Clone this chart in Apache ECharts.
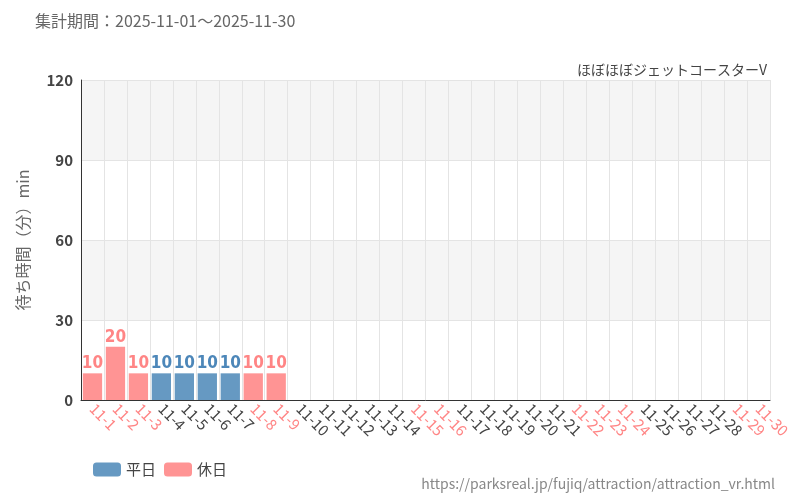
<!DOCTYPE html>
<html><head><meta charset="utf-8">
<script src="https://cdn.jsdelivr.net/npm/echarts@6/dist/echarts.min.js"></script>
<style>body{margin:0}#c{width:800px;height:500px}</style></head>
<body><div id="c"></div>
<script>
const categories = ['11-1','11-2','11-3','11-4','11-5','11-6','11-7','11-8','11-9','11-10','11-11','11-12','11-13','11-14','11-15','11-16','11-17','11-18','11-19','11-20','11-21','11-22','11-23','11-24','11-25','11-26','11-27','11-28','11-29','11-30'];
const holidays = ['11-1','11-2','11-3','11-8','11-9','11-15','11-16','11-22','11-23','11-24','11-29','11-30'];
const waitValues = [10,20,10,10,10,10,10,10,10,null,null,null,null,null,null,null,null,null,null,null,null,null,null,null,null,null,null,null,null,null];
const yTicks = [0,30,60,90,120];
const BLUE='#6699c2', PINK='#ff9494', BLUEL='#4d87b9', PINKL='#ff8585';
const isH = c => holidays.includes(c);
const chart = echarts.init(document.getElementById('c'));
chart.setOption({
  animation:false,
  textStyle:{fontFamily:'Noto Sans CJK JP'},
  title:[
    {text:'集計期間：2025-11-01～2025-11-30',left:30,top:8,textStyle:{fontSize:16,fontWeight:'normal',color:'#666'}},
    {text:'ほぼほぼジェットコースターV',right:28,top:58,textStyle:{fontSize:14,fontWeight:'normal',color:'#444'}},
    {text:'https://parksreal.jp/fujiq/attraction/attraction_vr.html',right:20,top:472,textStyle:{fontSize:14,fontWeight:'normal',color:'#888'}}
  ],
  legend:{left:88,top:457,itemWidth:28,itemHeight:14,textStyle:{fontSize:15,color:'#444'},
    data:[{name:'平日',itemStyle:{color:BLUE}},{name:'休日',itemStyle:{color:PINK}}]},
  grid:{left:81,right:30,top:80,bottom:100},
  xAxis:{type:'category',data:categories,
    axisLine:{lineStyle:{color:'#333'}},
    axisTick:{alignWithLabel:true,lineStyle:{color:'#333'}},
    splitLine:{show:true,lineStyle:{color:'#e4e4e4'}},
    axisLabel:{rotate:-45,interval:0,fontSize:15,margin:6,
      color:(v)=>isH(v)?PINKL:'#444'}},
  yAxis:{type:'value',min:0,max:120,interval:30,name:'待ち時間（分）min',nameLocation:'middle',nameGap:50,
    nameTextStyle:{fontSize:16,color:'#666'},
    axisLine:{show:true,lineStyle:{color:'#333'}},
    axisLabel:{fontSize:15,color:'#444',fontWeight:'bold'},
    splitLine:{lineStyle:{color:'#e4e4e4'}},
    splitArea:{show:true,areaStyle:{color:['#fff','#f5f5f5']}}},
  series:[
    {name:'平日',type:'bar',barWidth:'84%',barGap:'-100%',
     data:waitValues.map((v,i)=>isH(categories[i])?null:v),
     itemStyle:{color:BLUE},label:{show:true,position:'top',distance:1,color:BLUEL,fontSize:17,fontFamily:'DejaVu Sans Condensed',fontWeight:'bold'}},
    {name:'休日',type:'bar',barWidth:'84%',
     data:waitValues.map((v,i)=>isH(categories[i])?v:null),
     itemStyle:{color:PINK},label:{show:true,position:'top',distance:1,color:PINKL,fontSize:17,fontFamily:'DejaVu Sans Condensed',fontWeight:'bold'}}
  ]
});
</script></body></html>
